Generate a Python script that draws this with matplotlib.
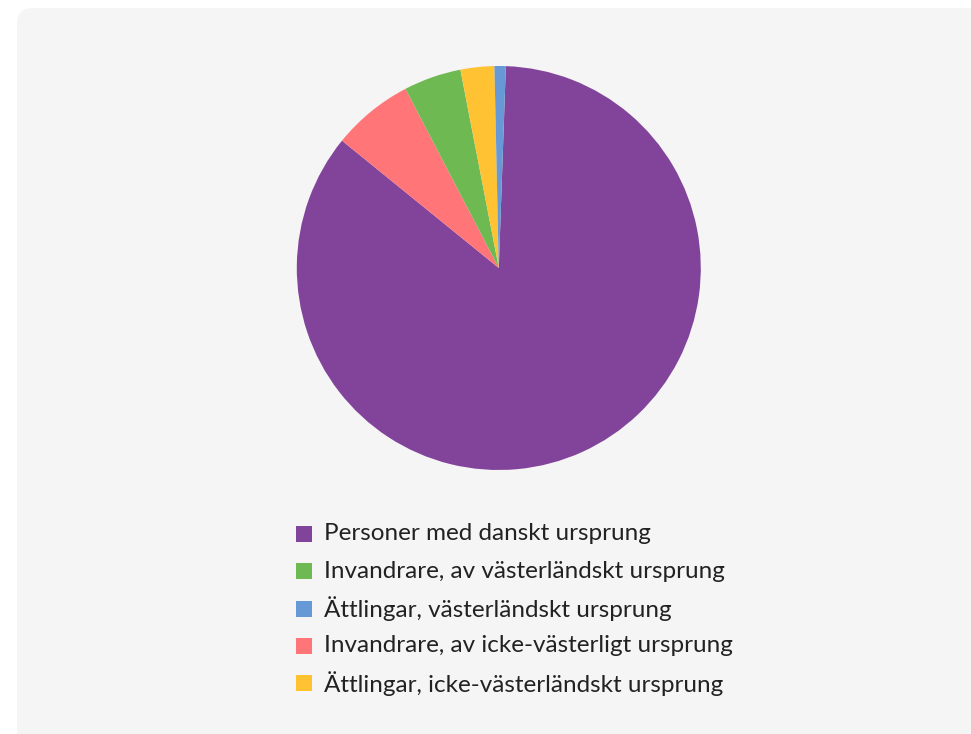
import matplotlib.pyplot as plt
from matplotlib.patches import FancyBboxPatch, Rectangle

# share of the population by origin, in percent
labels = [
    'Personer med danskt ursprung',
    'Invandrare, av västerländskt ursprung',
    'Ättlingar, västerländskt ursprung',
    'Invandrare, av icke-västerligt ursprung',
    'Ättlingar, icke-västerländskt ursprung',
]
values = [85.3, 4.6, 0.9, 6.5, 2.7]
colors = ['#82449b', '#6fb953', '#6699d5', '#ff7578', '#ffc233']

# order the slices are laid out around the pie (clockwise from the top)
pie_order = [0, 3, 1, 4, 2]

W, H = 971, 734
fig = plt.figure(figsize=(W / 100, H / 100), dpi=100)
fig.patch.set_facecolor('white')

# light grey card behind everything
card = FancyBboxPatch((17, -40), 1000, H - 8 + 40,
                      boxstyle='round,pad=0,rounding_size=16',
                      transform=None, facecolor='#f5f5f5', edgecolor='none',
                      zorder=-10)
fig.patches.append(card)

# pie axes, centred at (499, 268) px with radius 202 px
cx, cy, r = 498.8, 268, 202
ax = fig.add_axes([(cx - r) / W, 1 - (cy + r) / H, 2 * r / W, 2 * r / H])
ax.pie([values[i] for i in pie_order],
       colors=[colors[i] for i in pie_order],
       startangle=88, counterclock=False, radius=1,
       wedgeprops=dict(linewidth=0))
ax.set_xlim(-1, 1)
ax.set_ylim(-1, 1)
ax.set_aspect('equal')
ax.axis('off')

# legend rows below the pie
y0, step = 534, 37.3
for i, (lab, col) in enumerate(zip(labels, colors)):
    y = y0 + i * step
    fig.patches.append(Rectangle((296, H - y - 8), 16, 16, transform=None,
                                 facecolor=col, edgecolor='none'))
    fig.text(324 / W, 1 - y / H, lab, fontsize=17.5, family='Lato',
             color='#222222', va='center', ha='left')

fig.savefig('out.png', dpi=100, facecolor=fig.get_facecolor())
